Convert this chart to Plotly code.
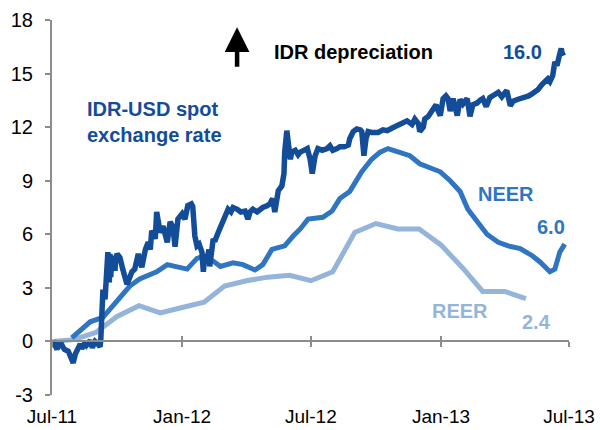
import pandas as pd
import plotly.graph_objects as go

# values, % change since Jul-11 (positive = IDR depreciation)
# x positions are days counted from 1 July 2011
start = pd.Timestamp("2011-07-01")

spot_day = [0, 4, 7, 11, 16, 18, 23, 27, 30, 33, 35, 40, 42, 47, 49, 54, 57, 61, 64, 68,
            69, 72, 75, 78, 79, 81, 82, 83, 85, 86, 88, 89, 90, 92, 96, 100, 106, 110, 113, 117,
            122, 127, 132, 136, 139, 141, 146, 148, 153, 157, 163, 167, 171, 174, 178, 184, 188, 192, 197, 199,
            202, 205, 208, 212, 214, 216, 219, 222, 223, 228, 230, 235, 240, 245, 249, 253, 256, 262, 267, 273,
            277, 280, 284, 290, 294, 298, 304, 308, 312, 315, 320, 325, 328, 329, 332, 335, 337, 339, 344, 348,
            351, 356, 361, 365, 368, 372, 376, 382, 389, 393, 397, 403, 407, 413, 419, 421, 426, 431, 436, 438,
            441, 444, 447, 452, 461, 468, 474, 481, 488, 495, 502, 509, 513, 518, 520, 525, 527, 532, 539, 543,
            546, 549, 553, 557, 560, 563, 567, 573, 577, 581, 587, 591, 595, 601, 605, 609, 614, 619, 625, 631,
            636, 643, 648, 652, 658, 663, 669, 674, 680, 687, 693, 697, 701, 704, 708, 711, 714, 717, 720, 721,
            723]
spot_val = [-0.3, -0.15, -0.45, 0.0, -0.35, -0.45, -0.55, -0.9, -1.2, -0.7, -0.55, -0.15, -0.4, -0.05, -0.2, 0.05, -0.35, 0.0, -0.1, -0.3,
            0.1, 2.9, 2.35, 4.2, 5.0, 3.3, 4.9, 3.6, 4.8, 4.2, 4.7, 3.95, 4.6, 4.9, 4.7, 4.05, 3.2, 3.6, 3.9, 4.05,
            4.9, 4.15, 5.15, 5.55, 5.15, 6.2, 5.75, 7.25, 6.1, 6.45, 5.55, 6.7, 6.4, 5.3, 6.85, 7.15, 6.85, 7.6, 7.7, 7.55,
            5.9, 5.35, 5.45, 5.0, 3.9, 4.9, 4.5, 5.15, 4.2, 5.75, 5.6, 6.1, 6.55, 7.15, 7.4, 7.25, 7.5, 7.4, 7.25, 7.3,
            6.85, 7.25, 7.4, 7.25, 7.4, 7.5, 7.6, 7.7, 8.0, 7.25, 8.45, 8.7, 9.4, 10.6, 11.8, 10.8, 10.2, 10.6, 10.7, 10.45,
            10.6, 10.7, 10.8, 10.2, 9.4, 10.4, 10.8, 10.7, 10.8, 10.95, 10.7, 10.8, 10.9, 10.9, 11.0, 11.35, 11.75, 11.9, 11.85, 11.75,
            10.4, 11.35, 11.75, 11.7, 11.7, 11.85, 11.8, 11.95, 12.1, 12.2, 12.35, 12.15, 12.45, 12.2, 11.75, 12.0, 12.45, 12.6, 13.05, 13.25,
            12.9, 12.65, 13.6, 13.75, 13.6, 12.9, 13.6, 12.65, 13.55, 13.3, 13.6, 12.6, 13.25, 13.35, 13.5, 13.6, 13.15, 13.65, 13.8, 13.95,
            13.7, 14.05, 13.2, 13.45, 13.55, 13.6, 13.7, 13.75, 13.9, 14.1, 14.4, 14.6, 14.7, 14.55, 14.9, 15.65, 15.45, 15.95, 16.4, 16.2,
            16.0]

neer_day = [28, 54, 72, 82, 103, 110, 124, 148, 163, 177, 191, 205, 213, 228, 238, 256, 270, 287, 298, 311,
            329, 341, 351, 362, 383, 396, 407, 421, 438, 452, 464, 475, 492, 506, 520, 534, 549, 563, 577, 588,
            601, 615, 631, 645, 662, 679, 690, 704, 711, 718, 725]
neer_val = [0.2, 1.1, 1.35, 1.8, 2.75, 3.1, 3.5, 3.9, 4.3, 4.15, 4.05, 4.65, 4.75, 4.5, 4.2, 4.4, 4.3, 4.0, 4.3, 5.15,
            5.35, 5.9, 6.3, 6.85, 6.95, 7.3, 8.0, 8.4, 9.5, 10.2, 10.6, 10.8, 10.6, 10.4, 9.95, 9.7, 9.5, 9.0, 8.4, 7.4,
            6.7, 6.0, 5.55, 5.35, 5.2, 4.8, 4.45, 3.9, 4.05, 5.0, 5.45]

# monthly, Jul-11 to May-13
reer_val = [0.0, 0.1, 0.5, 1.4, 2.0, 1.6, 1.9, 2.2, 3.1, 3.4, 3.6, 3.7, 3.4, 3.9, 6.1, 6.6, 6.3, 6.3,
            5.4, 4.1, 2.8, 2.8, 2.4]

tick_dates = ["2011-07-01", "2012-01-01", "2012-07-01", "2013-01-01", "2013-07-01"]
tick_text = ["Jul-11", "Jan-12", "Jul-12", "Jan-13", "Jul-13"]
y_ticks = [-3, 0, 3, 6, 9, 12, 15, 18]

dark = "#134C98"
mid = "#2F75C2"
light = "#94B4DA"
grey = "#8C8C8C"
font = "Arial, Liberation Sans, sans-serif"

spot_x = start + pd.to_timedelta(spot_day, unit="D")
neer_x = start + pd.to_timedelta(neer_day, unit="D")
reer_x = pd.date_range(start, periods=len(reer_val), freq="MS")

fig = go.Figure()
fig.add_trace(go.Scatter(x=reer_x, y=reer_val, mode="lines", line=dict(color=light, width=5)))
fig.add_trace(go.Scatter(x=neer_x, y=neer_val, mode="lines", line=dict(color=mid, width=5)))
fig.add_trace(go.Scatter(x=spot_x, y=spot_val, mode="lines", line=dict(color=dark, width=5.5)))
# dummy traces so the two zero-line axes get drawn
for ax in ["x2", "x3"]:
    fig.add_trace(go.Scatter(x=[start], y=[None], xaxis=ax, mode="lines", hoverinfo="skip"))

x_range = [tick_dates[0], tick_dates[-1]]
zero_pos = (0 - y_ticks[0]) / (y_ticks[-1] - y_ticks[0])

def labels(text, x, y, color, xanchor="center", **kw):
    return dict(text=text, x=x, y=y, xref="paper", yref="paper", showarrow=False,
                xanchor=xanchor, yanchor="middle",
                font=dict(family=font, size=20, color=color), **kw)

annotations = [
    dict(text=" ", x=0.358, y=0.981, xref="paper", yref="paper", showarrow=True,
         ax=0, ay=52, arrowhead=2, arrowsize=1.1, arrowwidth=4.5, arrowcolor="black", standoff=0),
    labels("<b>IDR depreciation</b>", 0.4255, 0.914, "black", xanchor="left"),
    labels("<b>IDR-USD spot<br>exchange rate</b>", 0.064, 0.727, dark, xanchor="left", align="left"),
    labels("<b>16.0</b>", 0.911, 0.914, dark),
    labels("<b>NEER</b>", 0.878, 0.537, mid),
    labels("<b>6.0</b>", 0.965, 0.449, mid),
    labels("<b>REER</b>", 0.789, 0.2246, light),
    labels("<b>2.4</b>", 0.938, 0.195, light),
]

fig.update_layout(
    width=600, height=430,
    margin=dict(l=52, r=31, t=20, b=35),
    paper_bgcolor="white", plot_bgcolor="white",
    showlegend=False,
    font=dict(family=font, size=20, color="black"),
    annotations=annotations,
    xaxis=dict(type="date", range=x_range, tickvals=tick_dates, ticktext=tick_text,
               showline=False, showgrid=False, zeroline=False, ticks="",
               tickfont=dict(size=19), ticklabelstandoff=8, automargin=False),
    xaxis2=dict(type="date", range=x_range, tickvals=tick_dates, overlaying="x",
                anchor="free", position=zero_pos, showline=True, linecolor=grey, linewidth=2,
                ticks="outside", ticklen=5, tickwidth=2, tickcolor=grey,
                showticklabels=False, showgrid=False, zeroline=False, automargin=False),
    xaxis3=dict(type="date", range=x_range, tickvals=tick_dates, overlaying="x",
                anchor="free", position=zero_pos, showline=False,
                ticks="inside", ticklen=5, tickwidth=2, tickcolor=grey,
                showticklabels=False, showgrid=False, zeroline=False, automargin=False),
    yaxis=dict(range=[y_ticks[0], y_ticks[-1]], tickvals=y_ticks, ticktext=[str(v) for v in y_ticks],
               showline=True, linecolor=grey, linewidth=2, ticks="outside", ticklen=5,
               tickwidth=2, tickcolor=grey, showgrid=False, zeroline=False,
               ticklabelstandoff=8, automargin=False),
)

# the page's default 8px body margin would push the figure out of the window
fig.write_html("out.html", config={"displayModeBar": False},
               post_script="document.body.style.margin = '0';")
